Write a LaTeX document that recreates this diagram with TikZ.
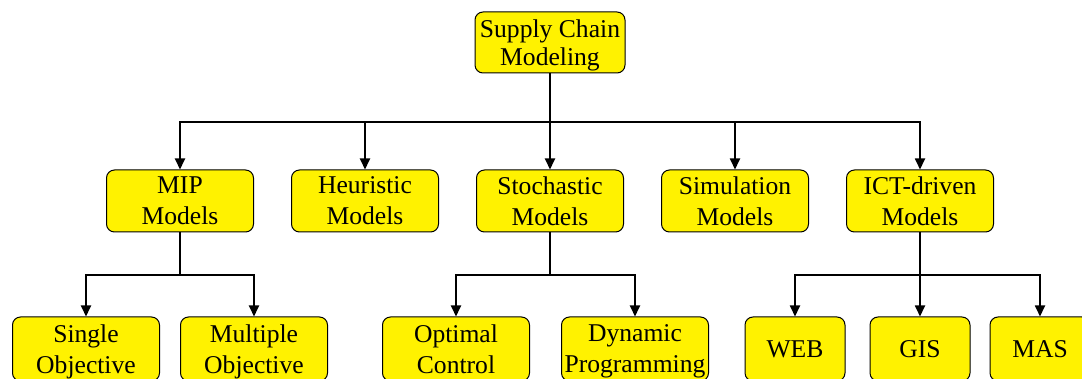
\documentclass[tikz,border=0pt]{standalone}
\usepackage{fontspec}
\setmainfont{Liberation Serif}
\usetikzlibrary{arrows.meta}

\tikzset{
  box/.style={draw=black, fill=yellow, line width=1pt, rounded corners=8pt,
    inner sep=0pt, align=center, text depth=0pt,
    font=\fontsize{25.6pt}{31pt}\selectfont},
  wide/.style={box, minimum width=147pt, minimum height=62pt},
  narrow/.style={box, minimum width=100pt, minimum height=64pt},
  low/.style={wide, minimum height=64pt},
  link/.style={draw=black, line width=1.8pt,
    -{Triangle[width=10pt,length=11pt]}},
  trunk/.style={draw=black, line width=1.8pt}
}

\begin{document}
\begin{tikzpicture}[x=1pt, y=-1pt]
\useasboundingbox (0,0) rectangle (1082,379);
\clip (0,0) rectangle (1082,379);

% root
\node[box, minimum width=150pt, minimum height=61pt,
      font=\fontsize{25.6pt}{28pt}\selectfont] (sc) at (550,42.5) {Supply Chain\\Modeling};

% model families
\node[wide] (mip) at (180,201) {MIP\\Models};
\node[wide] (heu) at (365,201) {Heuristic\\Models};
\node[wide] (sto) at (550,201) {Stochastic\\Models};
\node[wide] (sim) at (735,201) {Simulation\\Models};
\node[wide] (ict) at (920,201) {ICT-driven\\Models};

% sub-types
\node[low] (sgl) at (86,349)  {Single\\Objective};
\node[low] (mul) at (254,349) {Multiple\\Objective};
\node[low] (opt) at (456,349) {Optimal\\Control};
\node[low] (dyn) at (635,349) {Dynamic\\Programming};
\node[narrow] (web) at (795,349)  {WEB};
\node[narrow] (gis) at (920,349)  {GIS};
\node[narrow] (mas) at (1040,349) {MAS};

% bus junctions
\coordinate (b0) at (550,122);
\coordinate (b1) at (180,275);
\coordinate (b2) at (550,275);
\coordinate (b3) at (920,275);

% root to families
\draw[trunk] (sc.south) -- (b0);
\foreach \n in {mip,heu,sto,sim,ict}
  \draw[link] (b0) -| (\n.north);

% MIP branch
\draw[trunk] (mip.south) -- (b1);
\foreach \n in {sgl,mul}
  \draw[link] (b1) -| (\n.north);

% stochastic branch
\draw[trunk] (sto.south) -- (b2);
\foreach \n in {opt,dyn}
  \draw[link] (b2) -| (\n.north);

% ICT branch
\draw[trunk] (ict.south) -- (b3);
\foreach \n in {web,gis,mas}
  \draw[link] (b3) -| (\n.north);
\end{tikzpicture}
\end{document}
